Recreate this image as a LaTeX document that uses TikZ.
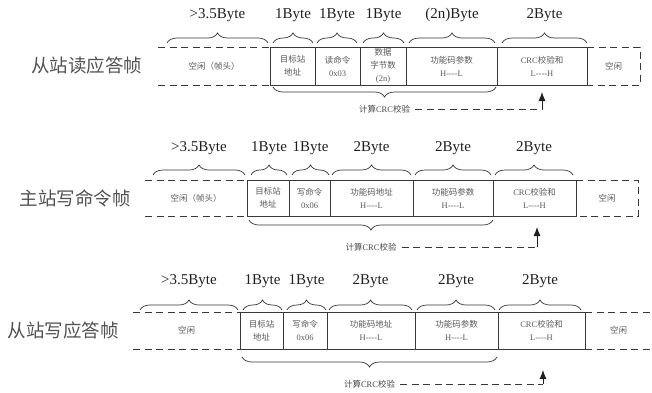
\documentclass[tikz,border=0pt]{standalone}
\usepackage{fontspec}
\setmainfont{Liberation Serif}
\newfontfamily\cjk{Noto Sans CJK SC}
\usetikzlibrary{decorations.pathreplacing,arrows.meta}
\newcommand\zh[1]{{\cjk #1}}
\newcommand\hl{-\kern0pt-\kern0pt-\kern0pt-}
\begin{document}
\begin{tikzpicture}[x=1pt,y=-1pt,
  line/.style={draw=black!78, line width=0.8pt},
  cell/.style={line, inner sep=0pt, outer sep=0pt, text=black!65,
    font=\fontsize{8.5}{13}\selectfont, align=center},
  idle/.style={inner sep=0pt, outer sep=0pt, text=black!65,
    font=\fontsize{8.5}{13}\selectfont, align=center},
  dashline/.style={draw=black!78, line width=0.8pt, dash pattern=on 7pt off 4.5pt},
  brc/.style={draw=black!80, line width=0.7pt, decorate, decoration={brace, amplitude=10pt}},
  blab/.style={font=\fontsize{15}{15}\selectfont, text=black!88},
  title/.style={font=\cjk\fontsize{18.5}{20}\selectfont, text=black!68},
  crc/.style={font=\fontsize{8.5}{10}\selectfont, text=black!72, inner sep=1pt},
  arr/.style={draw=black!88, line width=0.8pt, -{Latex[length=9pt,width=7pt]}}
]
\useasboundingbox (0,0) rectangle (652,392);

% ---------------- Row 1 ----------------
\node[title] (T1) at (86.5,65) {从站读应答帧};
\node[idle, minimum width=112pt, minimum height=38pt] (i1) at (214,66) {\zh{空闲（帧头）}};
\node[cell, minimum width=45pt, minimum height=38pt] (a1) at (292.5,66) {\zh{目标站}\\\zh{地址}};
\node[cell, minimum width=45pt, minimum height=38pt] (b1) at (337.5,66) {\zh{读命令}\\0x03};
\node[cell, minimum width=46pt, minimum height=38pt] (c1) at (383,66) {\zh{数据}\\\zh{字节数}\\(2n)};
\node[cell, minimum width=91pt, minimum height=38pt] (d1) at (451.5,66) {\zh{功能码参数}\\H\hl L};
\node[cell, minimum width=90pt, minimum height=38pt] (e1) at (542,66) {CRC\zh{校验和}\\L\hl H};
\node[idle, minimum width=53pt, minimum height=38pt] (f1) at (613.5,66) {\zh{空闲}};
\draw[dashline] (i1.north west) -- (i1.north east);
\draw[dashline] (i1.south west) -- (i1.south east);
\draw[dashline] (f1.north west) -- (f1.north east) -- (f1.south east) -- (f1.south west);

\draw[brc] ([xshift=9pt,yshift=4pt]i1.north west) -- ([xshift=-2pt,yshift=4pt]i1.north east) node[blab,midway,yshift=28pt] (l1a) {>3.5Byte};
\draw[brc] ([xshift=3pt,yshift=4pt]a1.north west) -- ([xshift=-2pt,yshift=4pt]a1.north east) node[blab,midway,yshift=28pt] (l1b) {1Byte};
\draw[brc] ([xshift=2pt,yshift=4pt]b1.north west) -- ([xshift=-3pt,yshift=4pt]b1.north east) node[blab,midway,yshift=28pt] (l1c) {1Byte};
\draw[brc] ([xshift=3pt,yshift=4pt]c1.north west) -- ([xshift=-2pt,yshift=4pt]c1.north east) node[blab,midway,yshift=28pt] (l1d) {1Byte};
\draw[brc] ([xshift=3pt,yshift=4pt]d1.north west) -- ([xshift=-2pt,yshift=4pt]d1.north east) node[blab,midway,yshift=28pt] (l1e) {(2n)Byte};
\draw[brc] ([xshift=5pt,yshift=4pt]e1.north west) -- ([xshift=0pt,yshift=4pt]e1.north east) node[blab,midway,yshift=28pt] (l1f) {2Byte};

\draw[brc] ([xshift=-1pt,yshift=-2pt]d1.south east) -- ([xshift=3pt,yshift=-2pt]a1.south west) node[crc,midway,yshift=-22pt] (t1) {\zh{计算}CRC\zh{校验}};
\coordinate (r1) at ([yshift=-7pt]e1.south);
\coordinate (k1) at (t1.east -| r1);
\draw[dashline] ([xshift=4pt]t1.east) -- (k1);
\draw[arr] (k1) -- (r1);

% ---------------- Row 2 ----------------
\node[title] (T2) at (75,198) {主站写命令帧};
\node[idle, minimum width=102pt, minimum height=36pt] (i2) at (196,198) {\zh{空闲（帧头）}};
\node[cell, minimum width=42pt, minimum height=36pt] (a2) at (268,198) {\zh{目标站}\\\zh{地址}};
\node[cell, minimum width=41pt, minimum height=36pt] (b2) at (309.5,198) {\zh{写命令}\\0x06};
\node[cell, minimum width=83pt, minimum height=36pt] (d2) at (371.5,198) {\zh{功能码地址}\\H\hl L};
\node[cell, minimum width=80pt, minimum height=36pt] (e2) at (453,198) {\zh{功能码参数}\\H\hl L};
\node[cell, minimum width=83pt, minimum height=36pt] (g2) at (534.5,198) {CRC\zh{校验和}\\L\hl H};
\node[idle, minimum width=62pt, minimum height=36pt] (f2) at (607,198) {\zh{空闲}};
\draw[dashline] (i2.north west) -- (i2.north east);
\draw[dashline] (i2.south west) -- (i2.south east);
\draw[dashline] (f2.north west) -- (f2.north east) -- (f2.south east) -- (f2.south west);

\draw[brc] ([xshift=8pt,yshift=5pt]i2.north west) -- ([xshift=-2pt,yshift=5pt]i2.north east) node[blab,midway,yshift=27pt] (l2a) {>3.5Byte};
\draw[brc] ([xshift=4pt,yshift=5pt]a2.north west) -- ([xshift=-2pt,yshift=5pt]a2.north east) node[blab,midway,yshift=27pt] (l2b) {1Byte};
\draw[brc] ([xshift=3pt,yshift=5pt]b2.north west) -- ([xshift=-1pt,yshift=5pt]b2.north east) node[blab,midway,yshift=27pt] (l2c) {1Byte};
\draw[brc] ([xshift=2pt,yshift=5pt]d2.north west) -- ([xshift=-2pt,yshift=5pt]d2.north east) node[blab,midway,yshift=27pt] (l2d) {2Byte};
\draw[brc] ([xshift=2pt,yshift=5pt]e2.north west) -- ([xshift=-2pt,yshift=5pt]e2.north east) node[blab,midway,yshift=27pt] (l2e) {2Byte};
\draw[brc] ([xshift=2pt,yshift=5pt]g2.north west) -- ([xshift=-3pt,yshift=5pt]g2.north east) node[blab,midway,yshift=27pt] (l2f) {2Byte};

\draw[brc] ([xshift=0pt,yshift=-4pt]e2.south east) -- ([xshift=2pt,yshift=-4pt]a2.south west) node[crc,midway,yshift=-27pt] (t2) {\zh{计算}CRC\zh{校验}};
\coordinate (r2) at ([xshift=2.5pt,yshift=-11pt]g2.south);
\coordinate (k2) at (t2.east -| r2);
\draw[dashline] ([xshift=4pt]t2.east) -- (k2);
\draw[arr] (k2) -- (r2);

% ---------------- Row 3 ----------------
\node[title] (T3) at (63,330) {从站写应答帧};
\node[idle, minimum width=107pt, minimum height=37pt] (i3) at (186.5,330.5) {\zh{空闲}};
\node[cell, minimum width=43pt, minimum height=37pt] (a3) at (261.5,330.5) {\zh{目标站}\\\zh{地址}};
\node[cell, minimum width=44pt, minimum height=37pt] (b3) at (305,330.5) {\zh{写命令}\\0x06};
\node[cell, minimum width=88pt, minimum height=37pt] (d3) at (371,330.5) {\zh{功能码地址}\\H\hl L};
\node[cell, minimum width=83pt, minimum height=37pt] (e3) at (456.5,330.5) {\zh{功能码参数}\\H\hl L};
\node[cell, minimum width=87pt, minimum height=37pt] (g3) at (541.5,330.5) {CRC\zh{校验和}\\L\hl H};
\node[idle, minimum width=67pt, minimum height=37pt] (f3) at (618.5,330.5) {\zh{空闲}};
\draw[dashline] (i3.north west) -- (i3.north east);
\draw[dashline] (i3.south west) -- (i3.south east);
\draw[dashline] (f3.north west) -- (f3.north east);
\draw[dashline] (f3.south west) -- (f3.south east);

\draw[brc] ([xshift=7pt,yshift=2pt]i3.north west) -- ([xshift=-2pt,yshift=2pt]i3.north east) node[blab,midway,yshift=29pt] (l3a) {>3.5Byte};
\draw[brc] ([xshift=3pt,yshift=2pt]a3.north west) -- ([xshift=-1pt,yshift=2pt]a3.north east) node[blab,midway,yshift=29pt] (l3b) {1Byte};
\draw[brc] ([xshift=4pt,yshift=2pt]b3.north west) -- ([xshift=-1pt,yshift=2pt]b3.north east) node[blab,midway,yshift=29pt] (l3c) {1Byte};
\draw[brc] ([xshift=2pt,yshift=2pt]d3.north west) -- ([xshift=-3pt,yshift=2pt]d3.north east) node[blab,midway,yshift=29pt] (l3d) {2Byte};
\draw[brc] ([xshift=2pt,yshift=2pt]e3.north west) -- ([xshift=-3pt,yshift=2pt]e3.north east) node[blab,midway,yshift=29pt] (l3e) {2Byte};
\draw[brc] ([xshift=1pt,yshift=2pt]g3.north west) -- ([xshift=-4pt,yshift=2pt]g3.north east) node[blab,midway,yshift=29pt] (l3f) {2Byte};

\draw[brc] ([xshift=-1pt,yshift=-8pt]e3.south east) -- ([xshift=2pt,yshift=-8pt]a3.south west) node[crc,midway,yshift=-27pt] (t3) {\zh{计算}CRC\zh{校验}};
\coordinate (r3) at ([xshift=1.5pt,yshift=-21pt]g3.south);
\coordinate (k3) at (t3.east -| r3);
\draw[dashline] ([xshift=4pt]t3.east) -- (k3);
\draw[arr] (k3) -- (r3);
\end{tikzpicture}
\end{document}
